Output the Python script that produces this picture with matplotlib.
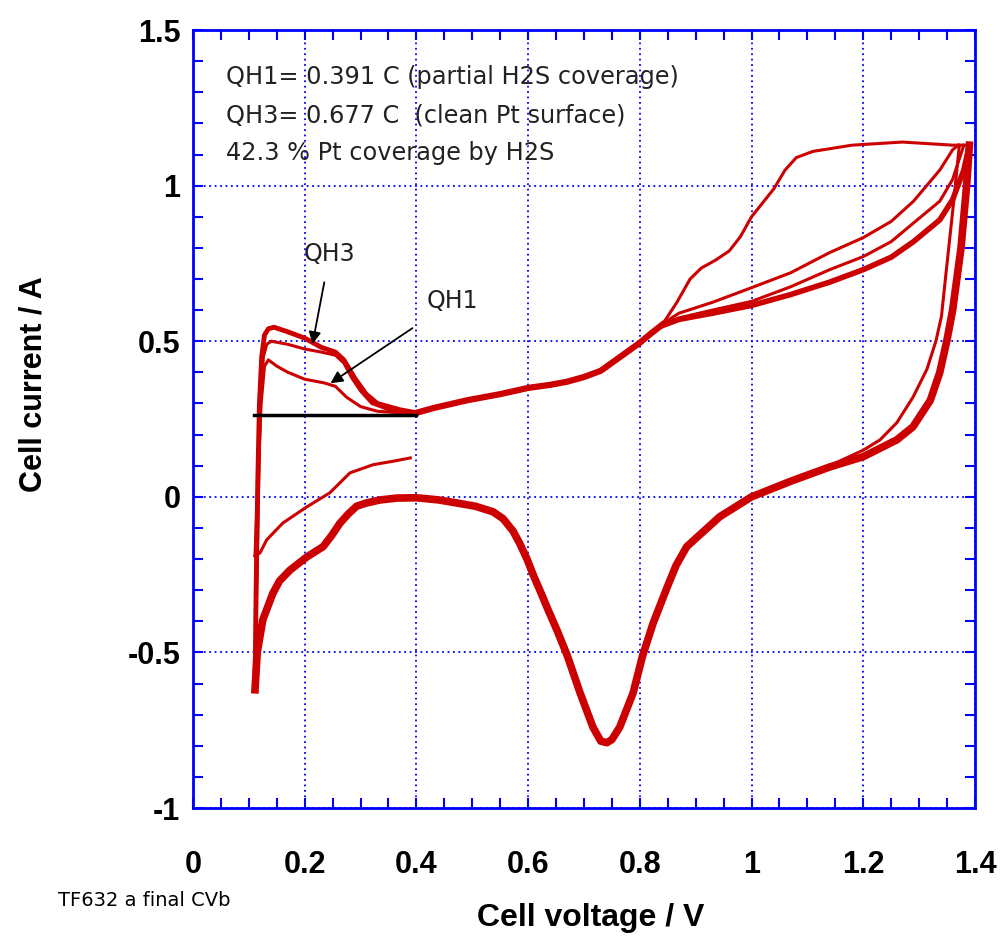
import matplotlib
matplotlib.use('Agg')
import matplotlib.pyplot as plt
from matplotlib.ticker import MultipleLocator

RED = '#cc0000'
BLUE = '#0000ff'

# first cathodic scan from 0.4 V (thin line)
init_x = [0.389, 0.36, 0.322, 0.281, 0.245, 0.204, 0.161, 0.132, 0.12, 0.111]
init_y = [0.125, 0.115, 0.103, 0.077, 0.013, -0.032, -0.084, -0.138, -0.18, -0.19]

# anodic H-desorption region, three cycles
hlow_x = [0.111, 0.114, 0.117, 0.122, 0.128, 0.135, 0.15, 0.17, 0.2, 0.235, 0.255, 0.275, 0.3, 0.33, 0.37, 0.40]
hlow_y = [-0.19, -0.05, 0.1, 0.3, 0.42, 0.44, 0.42, 0.40, 0.378, 0.366, 0.355, 0.32, 0.29, 0.275, 0.27, 0.268]
hmid_x = [0.112, 0.114, 0.117, 0.121, 0.126, 0.132, 0.14, 0.17, 0.2, 0.23, 0.255, 0.27, 0.285, 0.30, 0.32, 0.35, 0.38, 0.40]
hmid_y = [-0.60, -0.3, 0.0, 0.3, 0.45, 0.49, 0.50, 0.49, 0.475, 0.465, 0.455, 0.43, 0.38, 0.34, 0.30, 0.28, 0.272, 0.27]
htop_x = [0.111, 0.113, 0.116, 0.119, 0.123, 0.128, 0.135, 0.145, 0.17, 0.2, 0.23, 0.255, 0.27, 0.29, 0.31, 0.33, 0.37, 0.40]
htop_y = [-0.62, -0.3, 0.05, 0.3, 0.45, 0.52, 0.54, 0.545, 0.53, 0.51, 0.48, 0.465, 0.44, 0.38, 0.33, 0.30, 0.28, 0.27]

# common anodic part 0.4 -> 0.84 V
an_x = [0.40, 0.43, 0.49, 0.55, 0.60, 0.64, 0.67, 0.70, 0.73, 0.765, 0.80, 0.82, 0.84]
an_y = [0.27, 0.285, 0.31, 0.33, 0.35, 0.36, 0.37, 0.385, 0.405, 0.45, 0.495, 0.525, 0.553]

# anodic branches above 0.84 V
bump_x = [0.84, 0.866, 0.89, 0.91, 0.935, 0.96, 0.98, 1.0, 1.04, 1.06, 1.08, 1.11, 1.18, 1.27, 1.36, 1.39]
bump_y = [0.553, 0.624, 0.70, 0.735, 0.76, 0.79, 0.836, 0.9, 0.99, 1.05, 1.09, 1.11, 1.13, 1.14, 1.13, 1.13]
lineA_x = [0.84, 0.87, 0.93, 1.0, 1.07, 1.14, 1.2, 1.25, 1.29, 1.337, 1.36, 1.37]
lineA_y = [0.555, 0.59, 0.625, 0.672, 0.72, 0.785, 0.833, 0.885, 0.95, 1.05, 1.115, 1.13]
lineB_x = [0.84, 0.87, 0.93, 1.0, 1.07, 1.14, 1.2, 1.25, 1.29, 1.337, 1.36, 1.38]
lineB_y = [0.55, 0.575, 0.60, 0.628, 0.675, 0.73, 0.772, 0.82, 0.88, 0.95, 1.02, 1.13]
lineC_x = [0.84, 0.87, 0.93, 1.0, 1.07, 1.14, 1.2, 1.25, 1.29, 1.337, 1.36, 1.38, 1.39]
lineC_y = [0.55, 0.57, 0.59, 0.615, 0.65, 0.69, 0.73, 0.77, 0.82, 0.89, 0.955, 1.05, 1.13]

# cathodic scans
cthin_x = [1.372, 1.362, 1.35, 1.34, 1.33, 1.314, 1.289, 1.26, 1.23, 1.2, 1.14]
cthin_y = [1.13, 0.95, 0.75, 0.58, 0.5, 0.41, 0.32, 0.238, 0.183, 0.15, 0.10]
cat_x = [1.39, 1.385, 1.375, 1.36, 1.35, 1.337, 1.32, 1.289, 1.26, 1.2, 1.14, 1.07, 1.0, 0.943,
         0.884, 0.865, 0.849, 0.824, 0.805, 0.788, 0.764, 0.75, 0.741, 0.73, 0.716, 0.693, 0.67,
         0.652, 0.635, 0.621, 0.61, 0.598, 0.585, 0.573, 0.555, 0.537, 0.505, 0.473, 0.44, 0.40,
         0.365, 0.335, 0.31, 0.293, 0.278, 0.263, 0.248, 0.233, 0.204, 0.174, 0.155, 0.143, 0.125,
         0.115, 0.111]
cat_y = [1.13, 1.0, 0.8, 0.6, 0.505, 0.40, 0.31, 0.225, 0.183, 0.129, 0.096, 0.05, 0.0, -0.064,
         -0.16, -0.22, -0.29, -0.405, -0.51, -0.63, -0.74, -0.78, -0.79, -0.785, -0.74, -0.63, -0.51,
         -0.43, -0.36, -0.30, -0.255, -0.20, -0.15, -0.11, -0.07, -0.048, -0.03, -0.02, -0.01, -0.003,
         -0.004, -0.01, -0.02, -0.03, -0.055, -0.085, -0.125, -0.16, -0.193, -0.235, -0.27, -0.31, -0.395,
         -0.5, -0.62]

# baseline used for charge integration
base_x = [0.11, 0.40]
base_y = [0.264, 0.264]

fig = plt.figure(figsize=(10.01, 9.41), dpi=100)
ax = fig.add_axes([0.1928, 0.1413, 0.7812, 0.8268])

thin = 2.2
ax.plot(init_x, init_y, color=RED, lw=thin)
ax.plot(hlow_x, hlow_y, color=RED, lw=thin)
ax.plot(hmid_x, hmid_y, color=RED, lw=thin)
ax.plot(htop_x, htop_y, color=RED, lw=3.5)
ax.plot(an_x, an_y, color=RED, lw=4.5)
ax.plot(bump_x, bump_y, color=RED, lw=thin)
ax.plot(lineA_x, lineA_y, color=RED, lw=thin)
ax.plot(lineB_x, lineB_y, color=RED, lw=thin)
ax.plot(lineC_x, lineC_y, color=RED, lw=4.0)
ax.plot(cthin_x, cthin_y, color=RED, lw=thin)
ax.plot(cat_x, cat_y, color=RED, lw=5.5, solid_joinstyle='round')
ax.plot(base_x, base_y, color='black', lw=2.5)

ax.set_xlim(0, 1.4)
ax.set_ylim(-1, 1.5)
ax.xaxis.set_minor_locator(MultipleLocator(0.05))
ax.yaxis.set_minor_locator(MultipleLocator(0.1))
ax.set_xticks([0, 0.2, 0.4, 0.6, 0.8, 1.0, 1.2, 1.4])
ax.set_xticklabels(['0', '0.2', '0.4', '0.6', '0.8', '1', '1.2', '1.4'])
ax.set_yticks([-1, -0.5, 0, 0.5, 1, 1.5])
ax.set_yticklabels(['-1', '-0.5', '0', '0.5', '1', '1.5'])

ax.grid(True, which='major', color=BLUE, linestyle=(0, (1, 2)), lw=1.3)
for s in ax.spines.values():
    s.set_color(BLUE)
    s.set_linewidth(2)
ax.tick_params(which='both', direction='in', color=BLUE, width=1.5,
               top=True, right=True, length=7)
ax.tick_params(axis='x', which='major', pad=30)
ax.tick_params(axis='y', which='major', pad=9)
for lab in ax.get_xticklabels() + ax.get_yticklabels():
    lab.set_fontfamily('Liberation Sans')
    lab.set_fontweight('bold')
    lab.set_fontsize(22)

ax.set_xlabel('Cell voltage / V', fontfamily='Liberation Sans', fontweight='bold', fontsize=23)
ax.set_ylabel('Cell current / A', fontfamily='Liberation Sans', fontweight='bold', fontsize=22)
ax.xaxis.set_label_coords(0.508, -0.122)
ax.yaxis.set_label_coords(-0.185, 0.545)

txt = dict(fontsize=17.3, color='#222222', va='center', ha='left')
ax.text(0.059, 1.35, 'QH1= 0.391 C (partial H2S coverage)', **txt)
ax.text(0.059, 1.225, 'QH3= 0.677 C  (clean Pt surface)', **txt)
ax.text(0.059, 1.106, '42.3 % Pt coverage by H2S', **txt)

ax.text(0.245, 0.78, 'QH3', fontsize=17, color='#222222', ha='center', va='center')
ax.text(0.465, 0.63, 'QH1', fontsize=17, color='#222222', ha='center', va='center')
arrow = dict(arrowstyle='-|>', color='black', lw=1.3, mutation_scale=18)
ax.annotate('', xy=(0.213, 0.482), xytext=(0.236, 0.698), arrowprops=arrow)
ax.annotate('', xy=(0.242, 0.36), xytext=(0.397, 0.547), arrowprops=arrow)

fig.text(0.058, 0.043, 'TF632 a final CVb', fontsize=14, fontfamily='DejaVu Sans', va='center')

fig.savefig('out.png', dpi=100)
